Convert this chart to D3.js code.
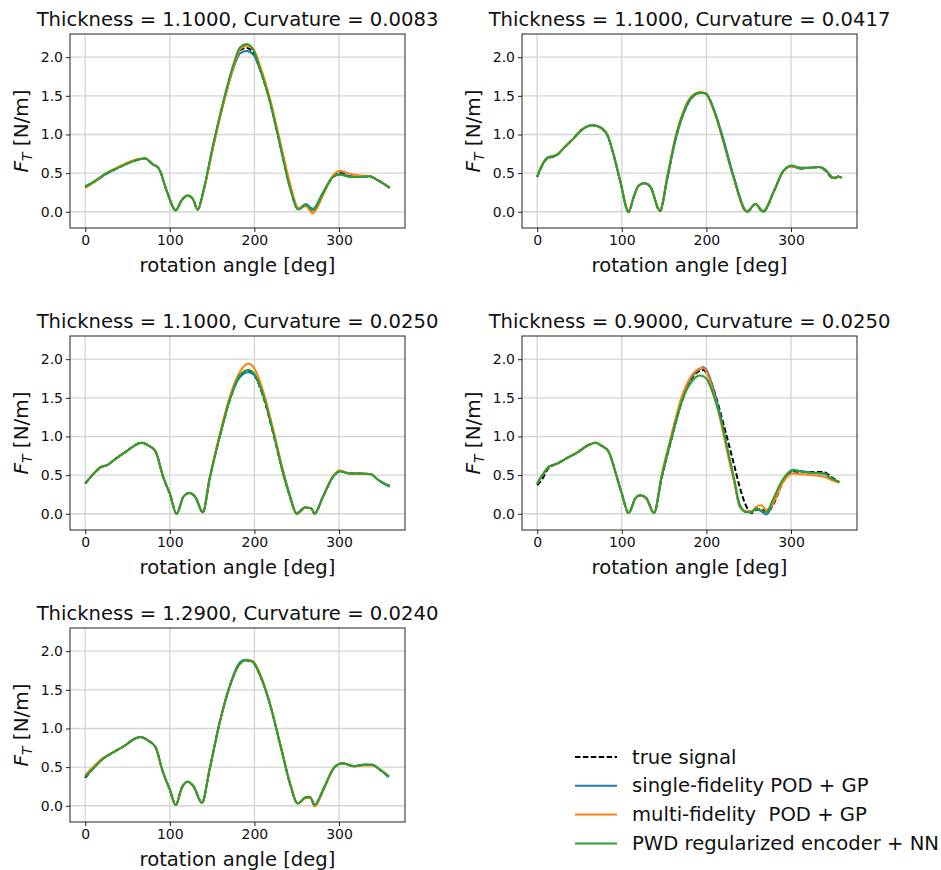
<!DOCTYPE html>
<html>
<head>
    <title>Thrust force panels</title>
    <script src="https://cdn.jsdelivr.net/npm/d3@7"></script>
    <style>
        body { margin: 0; background: #fff; }
        text { font-family: "DejaVu Sans", sans-serif; fill: #111; }
    </style>
</head>
<body>
    <svg width="941" height="870" id="mainsvg"></svg>
    <script>
        // rotation angles (deg) sampled from each panel
        const angles1 = [0,14,22,41,61,71,79,87,96,107,114,121,127,133,140,151,163,175,183,191,199,206,218,230,242,252,261,269,281,293,301,313,324,336,344,360];
        const true1   = [0.32,0.41,0.47,0.58,0.67,0.69,0.62,0.56,0.28,0.02,0.15,0.21,0.17,0.03,0.28,0.84,1.40,1.87,2.09,2.12,2.05,1.86,1.44,0.88,0.32,0.03,0.09,0.02,0.24,0.45,0.50,0.46,0.45,0.46,0.42,0.31];
        const single1 = [0.33,0.41,0.47,0.58,0.67,0.69,0.62,0.56,0.28,0.02,0.15,0.21,0.17,0.03,0.28,0.84,1.39,1.85,2.05,2.08,2.03,1.86,1.45,0.90,0.34,0.04,0.10,0.04,0.25,0.46,0.49,0.46,0.45,0.46,0.42,0.31];
        const multi1  = [0.31,0.41,0.48,0.59,0.68,0.69,0.62,0.56,0.28,0.02,0.15,0.21,0.17,0.03,0.27,0.82,1.38,1.86,2.10,2.15,2.10,1.91,1.48,0.93,0.37,0.05,0.07,-0.02,0.21,0.47,0.53,0.49,0.47,0.46,0.42,0.31];
        const pwd1    = [0.32,0.42,0.48,0.58,0.67,0.69,0.62,0.56,0.28,0.02,0.15,0.21,0.17,0.03,0.29,0.86,1.42,1.90,2.13,2.17,2.09,1.87,1.44,0.88,0.31,0.03,0.09,0.02,0.24,0.45,0.48,0.45,0.45,0.46,0.42,0.31];

        const angles2 = [0,4,12,18,24,31,43,55,65,73,83,91,98,108,114,120,127,134,145,154,163,173,183,193,199,209,220,232,248,258,267,280,291,301,311,323,333,341,350,357,360];
        const true2   = [0.45,0.56,0.69,0.71,0.74,0.82,0.95,1.08,1.12,1.10,0.99,0.71,0.40,0.00,0.19,0.34,0.37,0.32,0.01,0.45,0.92,1.28,1.48,1.54,1.53,1.31,0.92,0.45,0.00,0.10,0.00,0.27,0.53,0.59,0.56,0.57,0.58,0.53,0.43,0.46,0.44];
        const single2 = [0.46,0.56,0.70,0.71,0.74,0.82,0.95,1.08,1.12,1.10,0.99,0.71,0.40,0.01,0.19,0.34,0.37,0.32,0.02,0.44,0.91,1.27,1.48,1.54,1.53,1.32,0.94,0.47,0.01,0.10,0.01,0.27,0.53,0.59,0.56,0.57,0.58,0.54,0.44,0.45,0.44];
        const multi2  = [0.45,0.57,0.70,0.72,0.75,0.82,0.95,1.08,1.12,1.10,0.99,0.71,0.40,0.01,0.19,0.34,0.37,0.32,0.02,0.48,0.95,1.31,1.50,1.55,1.53,1.30,0.91,0.44,0.01,0.10,0.01,0.27,0.53,0.59,0.57,0.57,0.58,0.54,0.44,0.45,0.44];
        const pwd2    = [0.45,0.56,0.70,0.72,0.74,0.82,0.95,1.08,1.12,1.10,0.99,0.71,0.40,0.00,0.19,0.34,0.37,0.32,0.01,0.46,0.93,1.29,1.49,1.54,1.53,1.31,0.92,0.45,0.00,0.10,0.00,0.27,0.53,0.60,0.57,0.57,0.58,0.54,0.44,0.45,0.45];

        const angles3 = [0,10,18,26,37,49,61,67,75,83,92,100,108,116,123,130,139,147,159,171,183,193,200,210,222,234,242,250,260,267,271,281,293,301,313,324,338,346,354,360];
        const true3   = [0.39,0.52,0.60,0.63,0.72,0.81,0.90,0.92,0.88,0.81,0.48,0.26,0.00,0.22,0.27,0.22,0.02,0.45,1.00,1.48,1.78,1.84,1.79,1.53,1.05,0.52,0.22,0.00,0.08,0.07,0.00,0.22,0.48,0.55,0.52,0.52,0.51,0.44,0.39,0.36];
        const single3 = [0.39,0.52,0.60,0.63,0.72,0.81,0.90,0.92,0.88,0.81,0.48,0.26,0.00,0.22,0.27,0.22,0.02,0.45,1.00,1.48,1.77,1.83,1.79,1.55,1.08,0.55,0.24,0.01,0.08,0.07,0.01,0.22,0.48,0.55,0.52,0.52,0.51,0.44,0.38,0.35];
        const multi3  = [0.39,0.52,0.60,0.63,0.72,0.81,0.90,0.92,0.88,0.81,0.48,0.26,0.00,0.22,0.27,0.22,0.02,0.47,1.03,1.52,1.84,1.94,1.88,1.60,1.10,0.54,0.22,0.00,0.08,0.07,0.00,0.22,0.49,0.56,0.52,0.52,0.51,0.44,0.39,0.36];
        const pwd3    = [0.39,0.52,0.60,0.63,0.72,0.81,0.90,0.92,0.88,0.81,0.48,0.26,0.00,0.22,0.27,0.22,0.02,0.45,1.00,1.48,1.80,1.86,1.81,1.55,1.06,0.52,0.22,0.00,0.08,0.07,0.00,0.22,0.48,0.55,0.52,0.52,0.51,0.44,0.39,0.36];

        const angles4 = [0,6,14,24,35,47,59,69,76,84,94,100,108,116,122,129,138,147,159,171,182,192,196,200,210,218,225,233,239,247,253,259,265,271,278,290,302,314,325,339,347,357];
        const true4   = [0.37,0.45,0.60,0.65,0.72,0.79,0.88,0.92,0.88,0.81,0.48,0.26,0.01,0.20,0.24,0.20,0.01,0.46,0.98,1.45,1.74,1.85,1.86,1.83,1.56,1.25,0.96,0.62,0.36,0.10,0.01,0.05,0.06,0.02,0.10,0.40,0.55,0.54,0.54,0.54,0.48,0.41];
        const single4 = [0.39,0.50,0.61,0.65,0.72,0.79,0.88,0.92,0.88,0.81,0.48,0.26,0.01,0.20,0.24,0.20,0.01,0.47,0.99,1.47,1.76,1.87,1.90,1.86,1.55,1.20,0.82,0.42,0.10,0.03,0.03,0.06,0.03,-0.01,0.12,0.42,0.56,0.55,0.53,0.52,0.46,0.41];
        const multi4  = [0.39,0.50,0.61,0.65,0.72,0.79,0.88,0.92,0.88,0.81,0.48,0.26,0.01,0.20,0.24,0.20,0.01,0.50,1.04,1.52,1.78,1.88,1.89,1.84,1.50,1.14,0.78,0.40,0.12,0.03,0.03,0.09,0.11,0.05,0.12,0.40,0.52,0.51,0.50,0.48,0.44,0.40];
        const pwd4    = [0.39,0.50,0.61,0.65,0.72,0.79,0.88,0.92,0.88,0.81,0.48,0.26,0.01,0.20,0.24,0.20,0.01,0.48,1.00,1.46,1.70,1.79,1.78,1.75,1.48,1.18,0.83,0.44,0.13,0.02,0.02,0.07,0.04,0.02,0.17,0.44,0.57,0.54,0.53,0.52,0.46,0.41];

        const angles5 = [0,10,20,33,47,59,65,75,83,92,100,107,114,121,128,138,147,159,171,181,189,197,207,219,231,243,251,261,266,271,283,294,304,318,329,339,348,359];
        const true5   = [0.36,0.49,0.60,0.69,0.78,0.87,0.89,0.84,0.76,0.43,0.21,0.01,0.23,0.31,0.25,0.04,0.47,1.08,1.55,1.81,1.88,1.87,1.68,1.29,0.77,0.25,0.03,0.11,0.11,0.01,0.25,0.49,0.55,0.51,0.53,0.53,0.47,0.37];
        const single5 = [0.37,0.49,0.60,0.69,0.78,0.87,0.89,0.84,0.76,0.43,0.21,0.01,0.23,0.31,0.25,0.04,0.47,1.08,1.56,1.83,1.89,1.87,1.68,1.29,0.77,0.25,0.03,0.11,0.11,0.01,0.25,0.49,0.55,0.51,0.53,0.53,0.47,0.37];
        const multi5  = [0.40,0.51,0.61,0.69,0.78,0.87,0.89,0.84,0.76,0.43,0.21,0.01,0.23,0.31,0.25,0.04,0.47,1.08,1.55,1.81,1.88,1.88,1.70,1.30,0.78,0.26,0.03,0.10,0.10,-0.01,0.24,0.49,0.55,0.51,0.52,0.52,0.47,0.38];
        const pwd5    = [0.38,0.49,0.60,0.69,0.78,0.87,0.89,0.84,0.76,0.43,0.21,0.01,0.23,0.31,0.25,0.04,0.47,1.08,1.55,1.81,1.88,1.87,1.68,1.29,0.77,0.25,0.03,0.11,0.11,0.01,0.25,0.49,0.55,0.51,0.53,0.53,0.47,0.38];

        const titles = [
            'Thickness = 1.1000, Curvature = 0.0083',
            'Thickness = 1.1000, Curvature = 0.0417',
            'Thickness = 1.1000, Curvature = 0.0250',
            'Thickness = 0.9000, Curvature = 0.0250',
            'Thickness = 1.2900, Curvature = 0.0240'
        ];
        const seriesNames = ['true signal', 'single-fidelity POD + GP', 'multi-fidelity  POD + GP', 'PWD regularized encoder + NN'];
        const seriesColors = ['#000000', '#1f77b4', '#ff7f0e', '#2ca02c'];
        const xTicks = [0, 100, 200, 300];
        const yTicks = [0, 0.5, 1.0, 1.5, 2.0];

        const panels = [
            { angles: angles1, series: [true1, single1, multi1, pwd1] },
            { angles: angles2, series: [true2, single2, multi2, pwd2] },
            { angles: angles3, series: [true3, single3, multi3, pwd3] },
            { angles: angles4, series: [true4, single4, multi4, pwd4] },
            { angles: angles5, series: [true5, single5, multi5, pwd5] }
        ];

        const svg = d3.select('svg');
        const cols = [70, 522], rows = [34, 336, 628];
        const pw = 335, ph = 194;

        const x = d3.scaleLinear().domain([-18, 378]).range([0, pw]);
        const y = d3.scaleLinear().domain([-0.21, 2.30]).range([ph, 0]);

        panels.forEach((p, i) => {
            const g = svg.append('g')
                .attr('transform', `translate(${cols[i % 2]}, ${rows[Math.floor(i / 2)]})`);

            // grid
            g.append('g').selectAll('line').data(xTicks).join('line')
                .attr('x1', d => x(d)).attr('x2', d => x(d))
                .attr('y1', 0).attr('y2', ph)
                .attr('stroke', '#d4d4d4').attr('stroke-width', 1.3);
            g.append('g').selectAll('line').data(yTicks).join('line')
                .attr('x1', 0).attr('x2', pw)
                .attr('y1', d => y(d)).attr('y2', d => y(d))
                .attr('stroke', '#d4d4d4').attr('stroke-width', 1.3);

            const line = d3.line()
                .x((d, k) => x(p.angles[k]))
                .y(d => y(d))
                .curve(d3.curveMonotoneX);

            g.selectAll('path.series').data(p.series).join('path')
                .attr('class', 'series')
                .attr('d', line)
                .attr('fill', 'none')
                .attr('stroke', (d, k) => seriesColors[k])
                .attr('stroke-width', 2)
                .attr('stroke-dasharray', (d, k) => k === 0 ? '5.5,2.4' : null);

            g.append('rect')
                .attr('width', pw).attr('height', ph)
                .attr('fill', 'none').attr('stroke', '#222').attr('stroke-width', 1);

            const xAxis = g.append('g')
                .attr('transform', `translate(0, ${ph})`)
                .call(d3.axisBottom(x).tickValues(xTicks).tickSize(4).tickPadding(3));
            const yAxis = g.append('g')
                .call(d3.axisLeft(y).tickValues(yTicks).tickFormat(d3.format('.1f')).tickSize(4).tickPadding(3));
            [xAxis, yAxis].forEach(a => {
                a.select('.domain').remove();
                a.selectAll('line').attr('stroke', '#222');
                a.selectAll('text').attr('font-size', 14).attr('fill', '#222')
                    .attr('font-family', '"DejaVu Sans", sans-serif');
            });

            g.append('text')
                .attr('x', pw / 2).attr('y', -8)
                .attr('text-anchor', 'middle')
                .attr('font-size', 19.6)
                .text(titles[i]);

            g.append('text')
                .attr('x', pw / 2).attr('y', ph + 44)
                .attr('text-anchor', 'middle')
                .attr('font-size', 19.6)
                .text('rotation angle [deg]');

            const yl = g.append('text')
                .attr('transform', `translate(-42, ${ph / 2}) rotate(-90)`)
                .attr('text-anchor', 'middle')
                .attr('font-size', 20);
            yl.append('tspan').attr('font-style', 'italic').text('F');
            yl.append('tspan').attr('font-style', 'italic').attr('font-size', 14).attr('dy', 4).text('T');
            yl.append('tspan').attr('dy', -4).text(' [N/m]');
        });

        // legend
        const legend = svg.append('g').attr('transform', 'translate(575, 757)');
        const items = legend.selectAll('g').data(seriesNames).join('g')
            .attr('transform', (d, k) => `translate(0, ${k * 28.8})`);
        items.append('line')
            .attr('x1', 0).attr('x2', 42).attr('y1', 0).attr('y2', 0)
            .attr('stroke', (d, k) => seriesColors[k])
            .attr('stroke-width', 2)
            .attr('stroke-dasharray', (d, k) => k === 0 ? '5.5,2.4' : null);
        items.append('text')
            .attr('x', 57).attr('y', 6.5)
            .attr('font-size', 19.6)
            .attr('xml:space', 'preserve')
            .style('white-space', 'pre')
            .text(d => d);
    </script>
</body>
</html>
